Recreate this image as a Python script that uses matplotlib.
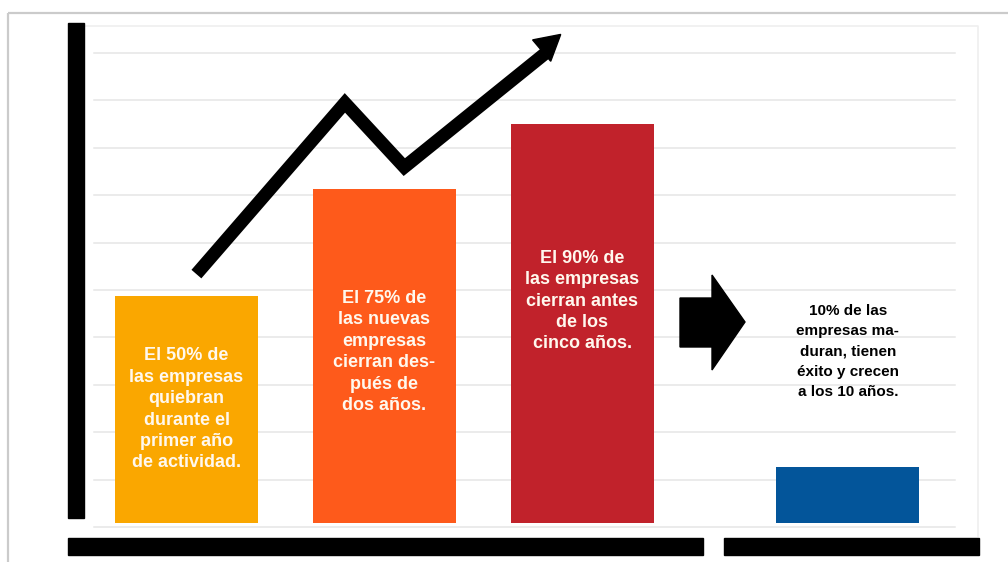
import matplotlib
matplotlib.use("Agg")
import matplotlib.pyplot as plt
from matplotlib.patches import Rectangle, Polygon
import numpy as np

# --- data -------------------------------------------------------------
positions = [0.0, 1.0, 2.0, 3.34]
values = [50, 75, 90, 10]
colors = ["#FAA700", "#FE5A1B", "#C1222B", "#03559A"]
labels = [
    "El 50% de\nlas empresas\nquiebran\ndurante el\nprimer año\nde actividad.",
    "El 75% de\nlas nuevas\nempresas\ncierran des-\npués de\ndos años.",
    "El 90% de\nlas empresas\ncierran antes\nde los\ncinco años.",
    "10% de las\nempresas ma-\nduran, tienen\néxito y crecen\na los 10 años.",
]
label_y = [23.4, 36.8, 48.7, 36.9]
label_colors = ["#FFF8EE", "#FFF8EE", "#FFF8EE", "black"]

# rising trend line drawn above the bars
trend_x = [0.05, 0.80, 1.10, 1.89]
trend_y = [55, 95, 80, 111]

W, H = 1008, 562
fig = plt.figure(figsize=(W / 100, H / 100), dpi=100)
fig.patch.set_facecolor("white")

# background layer in pixel units (frame, grid, axis bars, block arrow)
bg = fig.add_axes([0, 0, 1, 1], zorder=0)
bg.set_xlim(0, W)
bg.set_ylim(H, 0)
bg.axis("off")

# outer frame
bg.plot([8, W], [13, 13], color="#CBCBCB", lw=1.6, solid_capstyle="butt")
bg.plot([8, 8], [13, H], color="#CBCBCB", lw=1.6, solid_capstyle="butt")
# inner panel
bg.plot([85, 978, 978], [26, 26, 536], color="#EFEFEF", lw=1.2)

# horizontal grid
for k in range(11):
    y = 53 + 47.4 * k
    bg.plot([94, 955], [y, y], color="#E6E6E6", lw=1.1, zorder=1)

# heavy black axis bars
bg.add_patch(Rectangle((68, 23), 16, 495, color="black", zorder=2))
bg.add_patch(Rectangle((68, 538), 635, 17, color="black", zorder=2))
bg.add_patch(Rectangle((724, 538), 255, 17, color="black", zorder=2))

# block arrow pointing to the last bar
bg.add_patch(Polygon([(680, 298), (712, 298), (712, 275), (745, 322),
                      (712, 370), (712, 347), (680, 347)],
                     closed=True, color="black", zorder=3))

# --- data axes --------------------------------------------------------
ax = fig.add_axes([0, (H - 523) / H, 1, (523 - 22) / H], zorder=2)
ax.patch.set_alpha(0)
ax.axis("off")
ax.set_xlim((0 - 186.5) / 198, (W - 186.5) / 198)
y0 = -3.15
ax.set_ylim(y0, 113.9)

bar_w = 0.722
for x, v, c in zip(positions, values, colors):
    ax.bar(x, v - y0, bottom=y0, width=bar_w, color=c, zorder=2)

for x, ty, txt, tc in zip(positions, label_y, labels, label_colors):
    size, ls = (11, 1.56) if tc == "black" else (13, 1.336)
    ax.text(x, ty, txt, ha="center", va="center", color=tc,
            fontsize=size, fontweight="bold",
            family=["Liberation Sans", "DejaVu Sans"],
            linespacing=ls, zorder=4)

# trend line with arrow head
lw_pts = 9.4
ax.plot(trend_x[:-1] + [trend_x[-1] - 0.08], trend_y[:-1] + [trend_y[-1] - 4.5],
        color="black", lw=lw_pts, solid_joinstyle="miter",
        solid_capstyle="butt", zorder=5)
fig.canvas.draw()
p_tip = ax.transData.transform((trend_x[-1], trend_y[-1]))
p_prev = ax.transData.transform((trend_x[-2], trend_y[-2]))
d = p_tip - p_prev
d = d / np.hypot(*d)
n = np.array([-d[1], d[0]])
head_len, head_half = 25, 14
base = p_tip - d * head_len
head = Polygon([p_tip, base + n * head_half, base - n * head_half],
               closed=True, color="black", transform=None, zorder=6)
ax.add_artist(head)

fig.savefig("out.png", dpi=100, facecolor="white")
